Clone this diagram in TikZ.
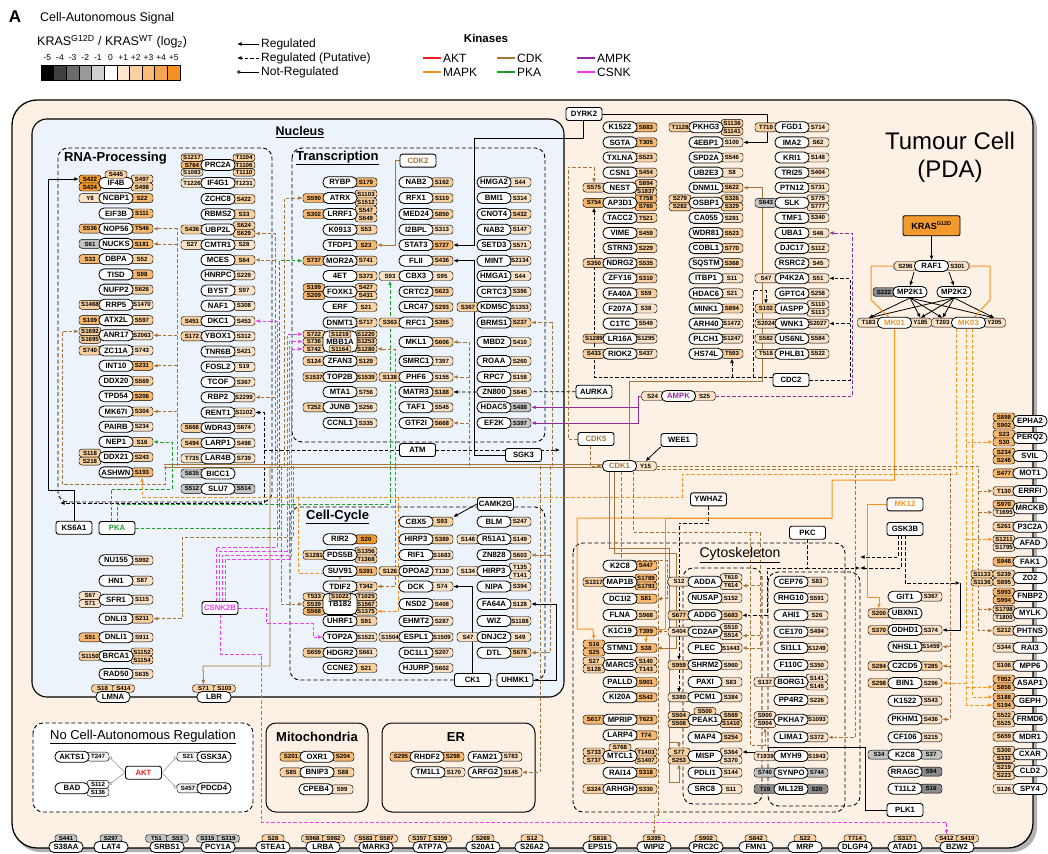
\documentclass[tikz,border=0pt]{standalone}
\usepackage{fontspec}
\setmainfont{Liberation Sans}
\usetikzlibrary{arrows.meta}
\pgfdeclarelayer{bg}
\pgfdeclarelayer{edges}
\pgfsetlayers{bg,edges,main}
\definecolor{panelc}{HTML}{FDF1E6}
\definecolor{nucc}{HTML}{EDF3FB}
\definecolor{cdkc}{HTML}{A8743A}
\definecolor{mapkc}{HTML}{F7941D}
\definecolor{pkac}{HTML}{1FA02A}
\definecolor{ampkc}{HTML}{8E2C9A}
\definecolor{csnkc}{HTML}{F03CF0}
\definecolor{aktc}{HTML}{EE1C25}
\definecolor{sa}{HTML}{FBE2C5}
\definecolor{sb}{HTML}{F9D09F}
\definecolor{sc}{HTML}{F6B86F}
\definecolor{sd}{HTML}{F39A2E}
\definecolor{sg}{HTML}{C4C4C4}
\definecolor{sk}{HTML}{8A8A8A}
\definecolor{sw}{HTML}{F5F5F5}
\definecolor{cb1}{HTML}{000000}
\definecolor{cb2}{HTML}{404040}
\definecolor{cb3}{HTML}{6B6B6B}
\definecolor{cb4}{HTML}{9A9A9A}
\definecolor{cb5}{HTML}{D0D0D0}
\definecolor{cb6}{HTML}{FFFFFF}
\definecolor{cb7}{HTML}{FDE6CC}
\definecolor{cb8}{HTML}{FBD1A2}
\definecolor{cb9}{HTML}{F9BC78}
\definecolor{cb10}{HTML}{F7A64F}
\definecolor{cb11}{HTML}{F59222}
\newcount\sitecnt
\newcommand{\sitecol}[4]{%
  \if\relax\detokenize{#4}\relax\else
    \global\sitecnt=0
    \foreach \sTxt/\sCol in {#4} {\global\advance\sitecnt by 1 }%
    \ifcase\sitecnt \or \def\sH{9}\def\sP{0}\or \def\sH{8}\def\sP{8}\else \def\sH{7.4}\def\sP{7.4}\fi
    \foreach \sTxt/\sCol [count=\si] in {#4} {%
      \pgfmathsetmacro{\sY}{#3+(\si-(\the\sitecnt+1)/2)*\sP}%
      \node[site, fill=s\sCol, minimum height=\sH pt] (#1\si) at (#2,\sY) {\sTxt};
    }%
  \fi}
\newcommand{\tsites}[5]{%
  \global\sitecnt=0
  \foreach \sTxt/\sCol in {#4} {\global\advance\sitecnt by 1 }%
  \foreach \sTxt/\sCol [count=\si] in {#4} {%
    \pgfmathsetmacro{\sX}{#2+(\si-(\the\sitecnt+1)/2)*21}%
    \pgfmathsetmacro{\sY}{#3+(#5)}%
    \node[site, fill=s\sCol, minimum height=7.5pt] (#1\si) at (\sX,\sY) {\sTxt};
  }}
\newcommand{\PR}[7][]{%
  \pgfmathsetmacro{\pL}{#4-26}\pgfmathsetmacro{\pR}{#4+26}%
  \sitecol{#2-L}{\pL}{#5}{#6}%
  \sitecol{#2-R}{\pR}{#5}{#7}%
  \node[prot,#1] (#2) at (#4,#5) {#3};}
\newcommand{\MEM}[5]{\tsites{#1-T}{#3}{#4}{#5}{-8.5}\node[prot] (#1) at (#3,#4) {#2};}
\tikzset{
 prot/.style={draw, line width=0.85pt, fill=white, rounded corners=5pt, minimum width=34pt, minimum height=11pt, inner sep=0pt, font=\fontsize{7.7}{7.7}\selectfont\bfseries},
 site/.style={draw, line width=0.45pt, rounded corners=3pt, minimum width=22pt, inner sep=0pt, font=\fontsize{6.1}{6.1}\selectfont\bfseries},
 kin/.style={draw, line width=0.9pt, fill=white, rounded corners=2.5pt, minimum width=36pt, minimum height=13pt, inner sep=1pt, font=\fontsize{7.7}{7.7}\selectfont\bfseries},
 txt/.style={inner sep=0pt},
 grp/.style={draw, dash pattern=on 4pt off 2.5pt, line width=0.9pt, rounded corners=10pt},
 reg/.style={-{Latex[length=4.5pt,width=3.8pt]}, line width=0.8pt},
 put/.style={reg, dash pattern=on 3.5pt off 2pt},
 cdk/.style={reg, draw=cdkc},
 cdkp/.style={put, draw=cdkc},
 mapk/.style={reg, draw=mapkc, line width=1pt},
 mapkp/.style={put, draw=mapkc, line width=1pt},
 pka/.style={put, draw=pkac},
 csnk/.style={put, draw=csnkc},
 ampk/.style={reg, draw=ampkc, line width=1pt},
 ampkp/.style={put, draw=ampkc},
 notreg/.style={-{Circle[open,length=3.5pt]}, line width=0.6pt, draw=black!40},
}
\begin{document}
\begin{tikzpicture}[x=1pt,y=-1pt]
\useasboundingbox (0,0) rectangle (1048,853);
\begin{pgfonlayer}{bg}
 \fill[white] (0,0) rectangle (1048,853);
 \fill[black!30, rounded corners=25pt] (15,104) rectangle (1037,852);
 \draw[line width=1.3pt, fill=panelc, rounded corners=25pt] (12,100) rectangle (1033,848);
 \draw[line width=1.1pt, fill=nucc, rounded corners=15pt] (32,119) rectangle (564,697);
 \draw[grp] (58,148) rectangle (272,502);
 \draw[grp] (292,148) rectangle (545,442);
 \draw[grp] (290,507) rectangle (545,680);
 \draw[grp] (573,543) rectangle (845,812);
 \draw[grp] (683,568) rectangle (762,804);
 \draw[grp] (768,572) rectangle (860,806);
 \draw[grp, fill=white] (33,723) rectangle (253,812);
 \draw[line width=1pt, rounded corners=10pt] (266,723) rectangle (368,812);
 \draw[line width=1pt, rounded corners=10pt] (382,723) rectangle (535,812);
\end{pgfonlayer}

% ---------- legend ----------
\node[txt, font=\fontsize{17}{17}\selectfont\bfseries] (lblA) at (15,17) {A};
\node[txt, anchor=west, font=\fontsize{12.5}{13}\selectfont] (lg1) at (40,18) {Cell-Autonomous Signal};
\node[txt, anchor=west, font=\fontsize{12.5}{13}\selectfont] (lg2) at (37,42) {KRAS\textsuperscript{G12D} / KRAS\textsuperscript{WT} (log\textsubscript{2})};
\foreach \vv [count=\i] in {-5,-4,-3,-2,-1,0,+1,+2,+3,+4,+5}
  \node[txt, font=\fontsize{8.5}{9}\selectfont] (scl\i) at ({41+12.64*(\i-0.5)},58) {\vv};
\foreach \i in {1,...,11}
  \draw[line width=0.6pt, fill=cb\i] ({41+12.64*(\i-1)},65) rectangle ({41+12.64*\i},80);
\node[txt, anchor=west, font=\fontsize{12}{13}\selectfont] (lgR) at (261,44) {Regulated};
\node[txt, anchor=west, font=\fontsize{12}{13}\selectfont] (lgP) at (261,58) {Regulated (Putative)};
\node[txt, anchor=west, font=\fontsize{12}{13}\selectfont] (lgN) at (261,72) {Not-Regulated};
\coordinate (lgRe) at (237,44);
\coordinate (lgPe) at (237,58);
\coordinate (lgNe) at (237,72);
\draw[reg] ([xshift=-2pt]lgR.west) -- (lgRe);
\draw[put] ([xshift=-2pt]lgP.west) -- (lgPe);
\draw[-{Circle[open,length=3.5pt]}, line width=0.8pt] ([xshift=-2pt]lgN.west) -- (lgNe);
\node[txt, font=\fontsize{11.5}{12}\selectfont\bfseries] (lgK) at (486,38) {Kinases};
\node[txt, anchor=west, font=\fontsize{12}{13}\selectfont] (kAKT) at (443,58) {AKT};
\node[txt, anchor=west, font=\fontsize{12}{13}\selectfont] (kCDK) at (517,58) {CDK};
\node[txt, anchor=west, font=\fontsize{12}{13}\selectfont] (kAMPK) at (597,58) {AMPK};
\node[txt, anchor=west, font=\fontsize{12}{13}\selectfont] (kMAPK) at (443,72) {MAPK};
\node[txt, anchor=west, font=\fontsize{12}{13}\selectfont] (kPKA) at (517,72) {PKA};
\node[txt, anchor=west, font=\fontsize{12}{13}\selectfont] (kCSNK) at (597,72) {CSNK};
\draw[aktc, line width=1.6pt] ([xshift=-2pt]kAKT.west) -- ++(-18,0);
\draw[cdkc, line width=1.6pt] ([xshift=-2pt]kCDK.west) -- ++(-18,0);
\draw[ampkc, line width=1.6pt] ([xshift=-2pt]kAMPK.west) -- ++(-18,0);
\draw[mapkc, line width=1.6pt] ([xshift=-2pt]kMAPK.west) -- ++(-18,0);
\draw[pkac, line width=1.6pt] ([xshift=-2pt]kPKA.west) -- ++(-18,0);
\draw[csnkc, line width=1.6pt] ([xshift=-2pt]kCSNK.west) -- ++(-18,0);

% ---------- titles ----------
\node[txt, font=\fontsize{24}{28}\selectfont, align=center] (ttl) at (950,157) {Tumour Cell\\(PDA)};
\node[txt, font=\fontsize{12.5}{13}\selectfont\bfseries] (tNuc) at (300,132) {\underline{Nucleus}};
\node[txt, anchor=west, font=\fontsize{13}{14}\selectfont\bfseries] (tRNA) at (64,158) {RNA-Processing};
\node[txt, anchor=west, font=\fontsize{13}{14}\selectfont\bfseries] (tTr) at (296,158) {\underline{Transcription}};
\node[txt, anchor=west, font=\fontsize{13}{14}\selectfont\bfseries] (tCC) at (306,517) {\underline{Cell-Cycle}};
\node[txt, font=\fontsize{14}{15}\selectfont] (tCy) at (740,555) {\underline{Cytoskeleton}};
\node[txt, font=\fontsize{13}{14}\selectfont\bfseries] (tMi) at (317,737) {Mitochondria};
\node[txt, font=\fontsize{13}{14}\selectfont\bfseries] (tER) at (456,737) {ER};
\node[txt, font=\fontsize{13}{14}\selectfont] (tNo) at (143,737) {\underline{No Cell-Autonomous Regulation}};

% ---------- kinase boxes ----------
\node[kin] (DYRK2) at (584,114) {DYRK2};
\node[kin] (AURKA) at (594,391.7) {AURKA};
\node[kin,text=cdkc] (CDK5) at (596,439) {CDK5};
\node[kin] (WEE1) at (679,440) {WEE1};
\node[kin] (YWHAZ) at (708.5,499.3) {YWHAZ};
\node[kin] (PKC) at (807.5,532.7) {PKC};
\node[kin] (CDC2) at (791,380) {CDC2};
\node[kin] (ATM) at (417.5,450) {ATM};
\node[kin] (SGK3) at (523.5,455) {SGK3};
\node[kin] (KS6A1) at (74,527.7) {KS6A1};
\node[kin,text=pkac] (PKA) at (117,528) {PKA};
\node[kin,text=csnkc] (CSNK2B) at (220,608) {CSNK2B};
\node[kin] (CAMK2G) at (495.5,504) {CAMK2G};
\node[kin] (CK1) at (472.5,680) {CK1};
\node[kin] (UHMK1) at (515,680) {UHMK1};
\node[kin,text=mapkc] (MK12) at (905,504.3) {MK12};
\node[kin] (GSK3B) at (905,529) {GSK3B};
\node[kin] (PLK1) at (905,810) {PLK1};
\node[kin,text=cdkc] (CDK2) at (418,160.7) {CDK2};
\node[kin,text=aktc] (AKT) at (143.5,772.7) {AKT};
\node[draw, line width=0.9pt, fill=sd, rounded corners=2pt, minimum width=57pt, minimum height=20pt, inner sep=1pt, font=\fontsize{9}{9}\selectfont\bfseries] (KRAS) at (931.5,225.7) {KRAS\textsuperscript{\fontsize{5.5}{5.5}\selectfont G12D}};

% ---------- KRAS pathway ----------
\PR{RAF1}{RAF1}{931.5}{266}{S296/a}{S301/a}
\PR{MP2K1}{MP2K1}{910}{292}{S222/k}{}
\PR{MP2K2}{MP2K2}{954}{292}{}{}
\PR{MK01}{\textcolor{mapkc}{MK01}}{894.5}{322.7}{T183/a}{Y185/a}
\PR{MK03}{\textcolor{mapkc}{MK03}}{968.5}{322.7}{T203/a}{Y205/a}
\PR{CDK1}{\textcolor{cdkc}{CDK1}}{619.5}{466}{}{Y15/a}
\PR{AMPK}{\textcolor{ampkc}{AMPK}}{678.5}{396}{S24/a}{S25/a}

% ---------- RNA processing ----------
\PR{IF4B}{IF4B}{116}{183}{S422/d,S424/d}{S497/b,S498/b}
\tsites{IF4B-T}{116}{183}{S445/b}{-8.5}
\PR{NCBP1}{NCBP1}{116}{198.2}{Y8/a}{S22/c}
\PR{EIF3B}{EIF3B}{116}{213.5}{}{S111/c}
\PR{NOP56}{NOP56}{116}{228.7}{S536/c}{T546/c}
\PR{NUCKS}{NUCKS}{116}{243.9}{S61/g}{S181/c}
\PR{DBPA}{DBPA}{116}{259.2}{S33/c}{S52/b}
\PR{TISD}{TISD}{116}{274.4}{}{S98/c}
\PR{NUFP2}{NUFP2}{116}{289.6}{}{S626/b}
\PR{RRP5}{RRP5}{116}{304.8}{S1468/b}{S1470/a}
\PR{ATX2L}{ATX2L}{116}{320.1}{S109/c}{S597/b}
\PR{ANR17}{ANR17}{116}{335.3}{S1692/b,S1695/b}{S2063/a}
\PR{ZC11A}{ZC11A}{116}{350.5}{S740/b}{S743/a}
\PR{INT10}{INT10}{116}{365.8}{}{S231/c}
\PR{DDX20}{DDX20}{116}{381}{}{S569/b}
\PR{TPD54}{TPD54}{116}{396.2}{}{S206/c}
\PR{MK67I}{MK67I}{116}{411.5}{}{S304/b}
\PR{PAIRB}{PAIRB}{116}{426.7}{}{S234/a}
\PR{NEP1}{NEP1}{116}{441.9}{}{S16/b}
\PR{DDX21}{DDX21}{116}{457.1}{S118/b,S218/b}{S243/b}
\PR{ASHWN}{ASHWN}{116}{472.4}{}{S193/c}
\PR{PRC2A}{PRC2A}{218}{165}{S1217/b,S764/c,S1083/a}{T1104/b,T1106/b,T1110/b}
\PR{IF4G1}{IF4G1}{218}{183}{T1226/a}{T1231/a}
\PR{ZCHC8}{ZCHC8}{218}{199}{}{S422/b}
\PR{RBMS2}{RBMS2}{218}{214.3}{}{S33/b}
\PR{UBP2L}{UBP2L}{218}{229.5}{S436/b}{S624/b,S629/b}
\PR{CMTR1}{CMTR1}{218}{244.8}{S27/a}{S28/a}
\PR{MCES}{MCES}{218}{260}{}{S64/b}
\PR{HNRPC}{HNRPC}{218}{275.3}{}{S229/a}
\PR{BYST}{BYST}{218}{290.5}{}{S97/a}
\PR{NAF1}{NAF1}{218}{305.8}{}{S308/a}
\PR{DKC1}{DKC1}{218}{321}{S451/b}{S453/a}
\PR{YBOX1}{YBOX1}{218}{336.3}{S172/b}{S312/a}
\PR{TNR6B}{TNR6B}{218}{351.5}{}{S421/a}
\PR{FOSL2}{FOSL2}{218}{366.8}{}{S19/a}
\PR{TCOF}{TCOF}{218}{382}{}{S367/a}
\PR{RBP2}{RBP2}{218}{397.3}{}{S2299/a}
\PR{RENT1}{RENT1}{218}{412.5}{}{S1102/a}
\PR{WDR43}{WDR43}{218}{427.8}{S666/b}{S674/a}
\PR{LARP1}{LARP1}{218}{443}{S494/b}{S498/a}
\PR{LAR4B}{LAR4B}{218}{458.3}{T735/a}{S739/a}
\PR{BICC1}{BICC1}{218}{473.5}{S635/g}{}
\PR{SLU7}{SLU7}{218}{488.8}{S512/g}{S514/g}

% ---------- Transcription ----------
\PR{RYBP}{RYBP}{340}{182.3}{}{S179/c}
\PR{ATRX}{ATRX}{340}{198}{S590/c}{S1103/b,S1512/b}
\PR{LRRF1}{LRRF1}{340}{214}{S302/c}{S547/b,S649/b}
\PR{K0913}{K0913}{340}{229.7}{}{S53/b}
\PR{TFDP1}{TFDP1}{340}{245}{}{S23/c}
\PR{MOR2A}{MOR2A}{340}{260.7}{S737/c}{S741/b}
\PR{ET4}{4ET}{340}{276}{}{S373/b}
\PR{FOXK1}{FOXK1}{340}{291.7}{S199/c,S209/c}{S427/b,S431/b}
\PR{ERF}{ERF}{340}{307}{}{S21/b}
\PR{DNMT1}{DNMT1}{340}{322.5}{}{S717/b}
\PR[minimum height=21pt]{MBB1A}{MBB1A}{340}{341.5}{S722/b,S736/b,S742/b}{S1220/b,S1253/b,S1280/b}
\tsites{MBB1A-T}{340}{341.5}{S1219/b}{-7.4}
\tsites{MBB1A-B}{340}{341.5}{S1164/b}{7.4}
\PR{ZFAN3}{ZFAN3}{340}{361}{S124/b}{S129/b}
\PR{TOP2B}{TOP2B}{340}{377}{S1537/b}{S1539/b}
\PR{MTA1}{MTA1}{340}{392}{}{S756/a}
\PR{JUNB}{JUNB}{340}{407.3}{T252/b}{S256/a}
\PR{CCNL1}{CCNL1}{340}{423}{}{S335/a}
\PR{NAB2}{NAB2}{416}{182.3}{}{S162/b}
\PR{RFX1}{RFX1}{416}{198}{}{S110/b}
\PR{MED24}{MED24}{416}{214}{}{S850/b}
\PR{I2BPL}{I2BPL}{416}{229.7}{}{S313/a}
\PR{STAT3}{STAT3}{416}{245}{}{S727/c}
\PR{FLII}{FLII}{416}{260.7}{}{S436/b}
\PR{CBX3}{CBX3}{416}{276}{S93/a}{S95/a}
\PR{CRTC2}{CRTC2}{416}{291.7}{}{S623/b}
\PR{LRC47}{LRC47}{416}{307}{}{S293/b}
\PR{RFC1}{RFC1}{416}{322.5}{S363/b}{S365/b}
\PR{MKL1}{MKL1}{416}{342}{}{S606/b}
\PR{SMRC1}{SMRC1}{416}{361}{}{T397/a}
\PR{PHF6}{PHF6}{416}{377}{S138/b}{S155/a}
\PR{MATR3}{MATR3}{416}{392}{}{S188/b}
\PR{TAF1}{TAF1}{416}{407.3}{}{S545/a}
\PR{GTF2I}{GTF2I}{416}{423}{}{S668/b}
\PR{HMGA2}{HMGA2}{494}{182.3}{}{S44/a}
\PR{BMI1}{BMI1}{494}{198}{}{S314/a}
\PR{CNOT4}{CNOT4}{494}{214}{}{S432/b}
\PR{NAB2b}{NAB2}{494}{229.7}{}{S147/a}
\PR{SETD3}{SETD3}{494}{245}{}{S571/a}
\PR{MINT}{MINT}{494}{260.7}{}{S2134/a}
\PR{HMGA1}{HMGA1}{494}{276}{}{S44/a}
\PR{CRTC3}{CRTC3}{494}{291.7}{}{S396/a}
\PR{KDM5C}{KDM5C}{494}{307}{S367/b}{S1353/a}
\PR{BRMS1}{BRMS1}{494}{322.5}{}{S237/b}
\PR{MBD2}{MBD2}{494}{342}{}{S410/a}
\PR{ROAA}{ROAA}{494}{361}{}{S260/a}
\PR{RPC7}{RPC7}{494}{377}{}{S158/a}
\PR{ZN800}{ZN800}{494}{392}{}{S645/a}
\PR{HDAC5}{HDAC5}{494}{407.3}{}{S488/g}
\PR{EF2K}{EF2K}{494}{423}{}{S397/g}

% ---------- lower nucleus ----------
\PR{NU155}{NU155}{116}{560.3}{}{S992/a}
\PR{HN1}{HN1}{116}{580.7}{}{S87/a}
\PR{SFR1}{SFR1}{116}{599.7}{S67/a,S71/a}{S115/a}
\PR{DNLI3}{DNLI3}{116}{618.7}{}{S211/b}
\PR{DNLI1}{DNLI1}{116}{637.3}{S51/c}{S911/a}
\PR{BRCA1}{BRCA1}{116}{656}{S1150/b}{S1152/b,S1154/b}
\PR{RAD50}{RAD50}{116}{674}{}{S635/a}
\MEM{LMNA}{LMNA}{113}{697}{S18/b,S414/b}
\MEM{LBR}{LBR}{214}{697}{S71/b,S103/b}

% ---------- Cell cycle ----------
\PR{RIR2}{RIR2}{340}{539.3}{}{S20/d}
\PR{PDS5B}{PDS5B}{340}{555}{S1281/b}{S1356/b,T1368/b}
\PR{SUV91}{SUV91}{340}{571}{}{S391/c}
\PR{TDIF2}{TDIF2}{340}{586.5}{}{T342/b}
\PR[minimum height=21pt]{TB182}{TB182}{340}{604}{T533/b,S539/b,S568/c}{T1025/b,S1567/b,S1375/b}
\tsites{TB182-T}{340}{604}{S1022/b}{-7.4}
\PR{UHRF1}{UHRF1}{340}{621}{}{S91/b}
\PR{TOP2A}{TOP2A}{340}{637}{}{S1521/a}
\PR{HDGR2}{HDGR2}{340}{652.7}{S659/b}{S661/a}
\PR{CCNE2}{CCNE2}{340}{668}{}{S21/b}
\PR{CBX5}{CBX5}{416}{521.7}{}{S93/b}
\PR{HIRP3}{HIRP3}{416}{539.3}{}{S389/b}
\PR{RIF1}{RIF1}{416}{555}{}{S1683/a}
\PR{DPOA2}{DPOA2}{416}{571}{S126/b}{T130/a}
\PR{DCK}{DCK}{416}{586.5}{}{S74/a}
\PR{NSD2}{NSD2}{416}{604}{}{S408/a}
\PR{EHMT2}{EHMT2}{416}{621}{}{S287/a}
\PR{ESPL1}{ESPL1}{416}{637}{S1504/a}{S1509/a}
\PR{DC1L1}{DC1L1}{416}{652.7}{}{S207/a}
\PR{HJURP}{HJURP}{416}{668}{}{S602/a}
\PR{BLM}{BLM}{494}{521.7}{}{S247/a}
\PR{R51A1}{R51A1}{494}{539.3}{S148/a}{S149/a}
\PR{ZN828}{ZN828}{494}{555}{}{S603/a}
\PR{HIRP3b}{HIRP3}{494}{571}{S134/a}{T135/a,T141/a}
\PR{NIPA}{NIPA}{494}{586.5}{}{S394/a}
\PR{FA64A}{FA64A}{494}{604}{}{S128/a}
\PR{WIZ}{WIZ}{494}{621}{}{S1188/a}
\PR{DNJC2}{DNJC2}{494}{637}{S47/a}{S49/a}
\PR{DTL}{DTL}{494}{652.7}{}{S678/b}

% ---------- top middle ----------
\PR{K1522}{K1522}{620}{127.3}{}{S883/c}
\PR{SGTA}{SGTA}{620}{142.4}{}{T305/c}
\PR{TXLNA}{TXLNA}{620}{157.5}{}{S523/b}
\PR{CSN1}{CSN1}{620}{172.6}{}{S454/b}
\PR{NEST}{NEST}{620}{187.7}{S575/b}{S894/b,S1837/b}
\PR{AP3D1}{AP3D1}{620}{202.8}{S754/c}{T758/c,S760/c}
\PR{TACC2}{TACC2}{620}{217.9}{}{T521/b}
\PR{VIME}{VIME}{620}{233}{}{S459/b}
\PR{STRN3}{STRN3}{620}{248.1}{}{S229/b}
\PR{NDRG2}{NDRG2}{620}{263.2}{S350/b}{S535/b}
\PR{ZFY16}{ZFY16}{620}{278.3}{}{S310/b}
\PR{FA40A}{FA40A}{620}{293.4}{}{S59/b}
\PR{F207A}{F207A}{620}{308.5}{}{S38/a}
\PR{C1TC}{C1TC}{620}{323.6}{}{S549/a}
\PR{LR16A}{LR16A}{620}{338.7}{S1289/b}{S1295/a}
\PR{RIOK2}{RIOK2}{620}{353.8}{S433/b}{S437/a}
\PR{PKHG3}{PKHG3}{706}{127.3}{T1128/b}{S1136/b,S1141/b}
\PR{EBP4}{4EBP1}{706}{142.4}{}{S100/a}
\PR{SPD2A}{SPD2A}{706}{157.5}{}{S546/a}
\PR{UB2E3}{UB2E3}{706}{172.6}{}{S8/a}
\PR{DNM1L}{DNM1L}{706}{187.7}{}{S622/b}
\PR{OSBP1}{OSBP1}{706}{202.8}{S279/b,S282/b}{S326/b,S329/b}
\PR{CA055}{CA055}{706}{217.9}{}{S281/a}
\PR{WDR81}{WDR81}{706}{233}{}{S523/b}
\PR{COBL1}{COBL1}{706}{248.1}{}{S770/b}
\PR{SQSTM}{SQSTM}{706}{263.2}{}{S368/b}
\PR{ITBP1}{ITBP1}{706}{278.3}{}{S11/a}
\PR{HDAC6}{HDAC6}{706}{293.4}{}{S21/a}
\PR{MINK1}{MINK1}{706}{308.5}{}{S894/b}
\PR{ARH40}{ARH40}{706}{323.6}{}{S1472/a}
\PR{PLCH1}{PLCH1}{706}{338.7}{}{S1247/a}
\PR{HS74L}{HS74L}{706}{353.8}{}{T593/b}
\PR{FGD1}{FGD1}{792}{127.3}{T710/b}{S714/a}
\PR{IMA2}{IMA2}{792}{142.4}{}{S62/a}
\PR{KRI1}{KRI1}{792}{157.5}{}{S148/a}
\PR{TRI25}{TRI25}{792}{172.6}{}{S404/a}
\PR{PTN12}{PTN12}{792}{187.7}{}{S731/a}
\PR{SLK}{SLK}{792}{202.8}{S643/g}{S775/a,S777/a}
\PR{TMF1}{TMF1}{792}{217.9}{}{S340/a}
\PR{UBA1}{UBA1}{792}{233}{}{S46/a}
\PR{DJC17}{DJC17}{792}{248.1}{}{S112/a}
\PR{RSRC2}{RSRC2}{792}{263.2}{}{S45/a}
\PR{P4K2A}{P4K2A}{792}{278.3}{S47/a}{S51/a}
\PR{GPTC4}{GPTC4}{792}{293.4}{}{S258/a}
\PR{IASPP}{IASPP}{792}{308.5}{S102/b}{S110/a,S113/a}
\PR{WNK1}{WNK1}{792}{323.6}{S2024/a}{S2027/a}
\PR{US6NL}{US6NL}{792}{338.7}{S582/a}{S584/a}
\PR{PHLB1}{PHLB1}{792}{353.8}{T518/a}{S522/a}

% ---------- Cytoskeleton ----------
\PR{K2C8}{K2C8}{620}{565.7}{}{S447/c}
\PR{MAP1B}{MAP1B}{620}{582}{S1317/b}{S1789/c,S1793/c}
\PR{DC1I2}{DC1I2}{620}{598.7}{}{S81/c}
\PR{FLNA}{FLNA}{620}{615}{}{S968/b}
\PR{K1C19}{K1C19}{620}{631.3}{}{T399/c}
\PR{STMN1}{STMN1}{620}{648}{S16/c,S25/c}{S38/c}
\PR{MARCS}{MARCS}{620}{665}{S27/b,S128/b}{S140/b,T143/b}
\PR{PALLD}{PALLD}{620}{682}{}{S901/c}
\PR{KI20A}{KI20A}{620}{697.3}{}{S542/c}
\PR{MPRIP}{MPRIP}{620}{719.7}{S617/c}{T623/c}
\PR{LARP4}{LARP4}{620}{735.3}{}{T74/c}
\PR{MTCL1}{MTCL1}{620}{756}{S733/b,S737/b}{T1403/b,S1407/b}
\tsites{MTCL1-T}{620}{756}{S768/b}{-8.5}
\PR{RAI14}{RAI14}{620}{772.7}{}{S318/c}
\PR{ARHGH}{ARHGH}{620}{789}{S324/b}{S330/b}
\PR{ADDA}{ADDA}{705}{581.7}{S12/a}{T610/a,T614/a}
\PR{NUSAP}{NUSAP}{705}{598}{}{S152/a}
\PR{ADDG}{ADDG}{705}{615.3}{S677/b}{S683/b}
\PR{CD2AP}{CD2AP}{705}{631.7}{S404/a}{S510/a,S514/a}
\PR{PLEC}{PLEC}{705}{648}{}{S1443/a}
\PR{SHRM2}{SHRM2}{705}{665}{S959/b}{S960/a}
\PR{PAXI}{PAXI}{705}{682}{}{S83/a}
\PR{PCM1}{PCM1}{705}{697.3}{S380/a}{S384/a}
\PR{PEAK1}{PEAK1}{705}{719.7}{S504/b,S508/b}{S569/b,S1410/b}
\tsites{PEAK1-T}{705}{719.7}{S500/b}{-8.5}
\PR{MAP4}{MAP4}{705}{737.3}{}{S254/b}
\PR{MISP}{MISP}{705}{756}{S77/b,S253/b}{S364/a,S370/a}
\PR{PDLI1}{PDLI1}{705}{772.7}{}{S144/a}
\PR{SRC8}{SRC8}{705}{789}{}{S11/a}
\PR{CEP76}{CEP76}{791}{581.7}{}{S83/a}
\PR{RHG10}{RHG10}{791}{598}{}{S591/a}
\PR{AHI1}{AHI1}{791}{615.3}{}{S26/a}
\PR{CE170}{CE170}{791}{631.7}{}{S494/a}
\PR{SI1L1}{SI1L1}{791}{648}{}{S1249/a}
\PR{F110C}{F110C}{791}{665}{}{S350/a}
\PR{BORG1}{BORG1}{791}{682}{S137/a}{S141/a,S145/a}
\PR{PP4R2}{PP4R2}{791}{700}{}{S226/a}
\PR{PKHA7}{PKHA7}{791}{719.7}{S900/a,S904/a}{S1093/a}
\PR{LIMA1}{LIMA1}{791}{737.3}{}{S372/a}
\PR{MYH9}{MYH9}{791}{756}{T1939/a}{S1943/a}
\PR{SYNPO}{SYNPO}{791}{772.7}{S740/g}{S744/g}
\PR{ML12B}{ML12B}{791}{789}{T19/k}{S20/k}

% ---------- right column ----------
\PR{GIT1}{GIT1}{905}{596.7}{}{S367/a}
\PR{UBXN1}{UBXN1}{905}{613.3}{S200/b}{}
\PR{ODHD1}{ODHD1}{905}{630}{S370/b}{S374/a}
\PR{NHSL1}{NHSL1}{905}{646.7}{}{S1459/a}
\PR{C2CD5}{C2CD5}{905}{666}{S284/b}{T285/b}
\PR{BIN1}{BIN1}{905}{683}{S298/b}{S296/a}
\PR{K1522b}{K1522}{905}{700.7}{}{S543/a}
\PR{PKHM1}{PKHM1}{905}{719.3}{}{S436/a}
\PR{CF106}{CF106}{905}{737.3}{}{S215/a}
\PR{K2C8b}{K2C8}{905}{754.7}{S34/g}{S37/g}
\PR{RRAGC}{RRAGC}{905}{771.7}{}{S94/k}
\PR{T11L2}{T11L2}{905}{788.7}{}{S16/k}

% ---------- membrane (right) ----------
\PR{EPHA2}{EPHA2}{1030}{421}{S898/c,S902/c}{}
\PR{PERQ2}{PERQ2}{1030}{438}{S23/c,S30/c}{}
\PR{SVIL}{SVIL}{1030}{456}{S234/c,S248/c}{}
\PR{MOT1}{MOT1}{1030}{473.3}{S477/c}{}
\PR{ERRFI}{ERRFI}{1030}{491}{T130/b}{}
\PR{MRCKB}{MRCKB}{1030}{508.3}{S970/c,T1695/a}{}
\PR{P3C2A}{P3C2A}{1030}{526.7}{S261/b}{}
\PR{AFAD}{AFAD}{1030}{543.3}{S1211/b,S1795/a}{}
\PR{FAK1}{FAK1}{1030}{561.7}{S948/c}{}
\sitecol{ZO2-LL}{982}{578}{S1133/b,S1136/b}
\PR{ZO2}{ZO2}{1030}{578}{S239/b,S895/b}{}
\PR{FNBP2}{FNBP2}{1030}{596}{S993/c,S994/c}{}
\PR{MYLK}{MYLK}{1030}{613.3}{S1798/b,T1800/a}{}
\PR{PHTNS}{PHTNS}{1030}{630.7}{S212/b}{}
\PR{RAI3}{RAI3}{1030}{647.7}{S344/a}{}
\PR{MPP6}{MPP6}{1030}{665.7}{S106/b}{}
\PR{ASAP1}{ASAP1}{1030}{683}{T852/c,S858/c}{}
\PR{GEPH}{GEPH}{1030}{701}{S188/c,S194/c}{}
\PR{FRMD6}{FRMD6}{1030}{719}{S522/b,S525/b}{}
\PR{MDR1}{MDR1}{1030}{736.7}{S659/b}{}
\PR{CXAR}{CXAR}{1030}{754.3}{S300/b,S332/b}{}
\PR{CLD2}{CLD2}{1030}{771.3}{S219/b,S223/b}{}
\PR{SPY4}{SPY4}{1030}{789}{S126/a}{}

% ---------- membrane (bottom) ----------
\MEM{S38AA}{S38AA}{66}{847}{S441/g}
\MEM{LAT4}{LAT4}{111}{847}{S297/g}
\MEM{SRBS1}{SRBS1}{167}{847}{T51/g,S53/g}
\MEM{PCY1A}{PCY1A}{218}{847}{S315/g,S319/g}
\MEM{STEA1}{STEA1}{273}{847}{S28/b}
\MEM{LRBA}{LRBA}{323}{847}{S968/b,S982/b}
\MEM{MARK3}{MARK3}{376}{847}{S583/b,S587/b}
\MEM{ATP7A}{ATP7A}{430}{847}{S357/b,S359/b}
\MEM{S20A1}{S20A1}{483}{847}{S269/b}
\MEM{S26A2}{S26A2}{532}{847}{S12/b}
\MEM{EPS15}{EPS15}{600}{847}{S816/b}
\MEM{WIPI2}{WIPI2}{654}{847}{S395/b}
\MEM{PRC2C}{PRC2C}{706}{847}{S902/b}
\MEM{FMN1}{FMN1}{756}{847}{S842/b}
\MEM{MRP}{MRP}{805}{847}{S22/b}
\MEM{DLGP4}{DLGP4}{855}{847}{T714/b}
\MEM{ATAD1}{ATAD1}{905}{847}{S317/b}
\MEM{BZW2}{BZW2}{957}{847}{S412/b,S419/b}

% ---------- no cell-autonomous / organelles ----------
\PR{AKTS1}{AKTS1}{72}{756.7}{}{T247/w}
\PR{BAD}{BAD}{72}{788.3}{}{S112/w,S136/w}
\PR{GSK3A}{GSK3A}{214}{756.7}{S21/w}{}
\PR{PDCD4}{PDCD4}{214}{788.3}{S457/w}{}
\PR{OXR1}{OXR1}{317}{756.7}{S201/c}{S204/c}
\PR{BNIP3}{BNIP3}{317}{772.3}{S85/b}{S88/b}
\PR{CPEB4}{CPEB4}{316}{789.3}{}{S99/a}
\PR{RHDF2}{RHDF2}{427}{756.7}{S295/c}{S298/c}
\PR{TM1L1}{TM1L1}{428}{772.3}{}{S170/a}
\PR{FAM21}{FAM21}{485}{756.7}{}{S783/a}
\PR{ARFG2}{ARFG2}{485}{772.3}{}{S145/a}

\coordinate (atmE) at (560,450);
\coordinate (rnaB) at (60,503);

% ================= connectors =================
\begin{pgfonlayer}{edges}
% black
\draw[reg] (KS6A1.north) |- (48,490) |- (IF4B-L1.west);
\draw[reg] ([xshift=-1pt]DYRK2.south) |- (474,138) |- (STAT3-R1.east);
\draw[reg] (DYRK2.east) -| (767,142.4) -- (EBP4-R1.east);
\draw[reg] (SGK3.west) -| (474,260.7) -- (FLII-R1.east);
\draw[put] (AURKA.west) -- (MATR3-R1.east);
\draw[reg] (CK1.north) |- (DCK-R1.east);
\draw[reg] (UHMK1.east) -| (556,604) -- (FA64A-R1.east);
\draw[reg] (CAMK2G.west) -- (CBX5-R1.north east);
\draw[reg] (WEE1.south west) -- (CDK1-R1.north);
\draw[put] (ATM.west) -- (264,450) |- (RENT1-R1.east);
\draw[put] (264,450) |- (rnaB);
\draw[put] (ATM.east) -- (atmE);
\draw[reg] (KRAS.south) -- (RAF1.north);
\draw[reg] (RAF1.south west) -- (MP2K1.north);
\draw[reg] (RAF1.south east) -- (MP2K2.north);
\foreach \ka in {MP2K1,MP2K2} \foreach \kb in {MK01-L1,MK01-R1,MK03-L1,MK03-R1} \draw[reg] (\ka.south) -- (\kb.north);
\draw[put] (GSK3B.south) |- (960,583);
\draw[reg] (960,583) |- (ODHD1-R1.east);
\draw[put] ([xshift=-7pt]GSK3B.south) |- (860,557);
\draw[put] ([xshift=-4pt]GSK3B.south) |- (860,568);
\draw[reg] (PLK1.west) -| (865,747) -| (768,752) -- (MISP-R1.east);
\draw[put] (CDC2.east) -| (850,278.3) -- (P4K2A-R1.east);
\draw[put] (850,323.6) -- (WNK1-R1.east);
\draw[put] ([yshift=3pt]CDC2.west) -- (594,377) -- (AP3D1-L1.south);
\draw[put] (732,377) -- (HS74L-R1.south);
\draw[put] (753,377) |- (766,290) -- (IASPP-L1.north);
\draw[put] (YWHAZ.south) |- (679,523) -- (SHRM2-L1.north);
\draw[put] (SHRM2-L1.south) -- (PCM1-L1.north);
\draw[put] (PKC.south) |- (767,568) |- (ADDG-R1.east);
\draw[put] (PKC.south) |- (860,568);
% purple
\draw[ampk] (AMPK-L1.west) -| (638,407.3) -- (HDAC5-R1.east);
\draw[ampk] (638,407.3) |- (EF2K-R1.east);
\draw[ampkp] (AMPK-R1.east) -| (852,233) -- (UBA1-R1.east);
% green
\draw[pka] ([xshift=-6pt]PKA.north) |- (172,489) |- (NEP1-R1.east);
\draw[pka] (PKA.north) |- (390,504) -- (CBX3-L1.south);
\draw[pka] (PKA.east) -| (279,260.7) -- (MOR2A-L1.west);
% magenta
\draw[csnk] ([xshift=-4pt]CSNK2B.north) |- (277,547) |- (DKC1-R1.east);
\draw[csnk] ([xshift=-1pt]CSNK2B.north) |- (287,551) |- (MBB1A-L1.west);
\draw[csnk] ([xshift=2pt]CSNK2B.north) |- (289,555) |- (MBB1A-L2.west);
\draw[csnk] ([xshift=5pt]CSNK2B.north) |- (291,559) |- (MBB1A-L3.west);
\draw[csnk] (CSNK2B.east) -| (266,623) -| (313,637) -- (TOP2A.west);
\draw[csnk] (CSNK2B.south) |- (261,654) -- (261,822) -| (BZW2-T1.north);
% orange
\draw[mapk,-{Bar[width=6pt]}] ([xshift=-6pt]MK01.north) -- (871,300) -- (871,266) -- (RAF1-L1.west);
\draw[mapk,-{Bar[width=6pt]}] ([xshift=6pt]MK03.north) -- (990,300) -- (990,266) -- (RAF1-R1.east);
\draw[mapk] (MK01.south) |- (832,480) |- (577,518) |- (593,629) -- (STMN1-L1.north);
\draw[mapk] (832,518) -| (665,629) -| (STMN1-R1.north);
\draw[mapk] (MK12.west) -| (867,597) -| (UBXN1-L1.north);
\draw[mapkp] ([xshift=-2pt]MK03.south) -- (966.5,705) -- (GEPH-L2.west);
\draw[mapkp] (966.5,442) -- (PERQ2-L2.west);
\draw[mapkp] (966.5,539.3) -- (AFAD-L1.west);
\draw[mapkp] (966.5,687) -- (ASAP1-L2.west);
\draw[mapkp] (966.5,683) -- (BIN1-R1.east);
\draw[mapkp] ([xshift=4pt]MK03.south) |- (GEPH-L1.west);
\draw[mapkp] ([xshift=-12pt]MK03.south) |- (682,474) |- (142,497) -- (ASHWN-R1.south);
\draw[mapkp] (298,497) |- (340,573) -- (TDIF2.north);
\draw[mapkp] (398,497) |- (TB182-R3.east);
% brown (CDK)
\draw[cdk] (CDK2.west) -| (395,245) -- (TFDP1-R1.east);
\draw[cdkc, line width=1pt] ([yshift=1.5pt]CDK1.west) -- (164,464.5);
\draw[cdkc, line width=1pt] ([yshift=-1.5pt]CDK1.west) -- (164,467.5);
\draw[cdkp] (177,466) |- (NOP56-R1.east);
\draw[cdkp] (177,243.9) -- (NUCKS-R1.east);
\draw[cdkp] (177,335.3) -- (ANR17-R1.east);
\draw[cdkp] (177,365.8) -- (INT10-R1.east);
\draw[cdkp] (177,411.5) -- (MK67I-R1.east);
\draw[cdkp] (165,466) |- (62,484) |- (ANR17-L1.west);
\draw[cdkp] (275,466) |- (UBP2L-R2.east);
\draw[cdkp] (275,260) -- (MCES-R1.east);
\draw[cdkp] (275,397.3) -- (RBP2-R1.east);
\draw[cdkp] (284,466) |- (ATRX-L1.west);
\draw[cdkp] (281,466) |- (TB182-L2.west);
\draw[cdkp] (395,466) |- (MBB1A-R3.east);
\draw[cdkp] (395,466) |- (TDIF2-R1.east);
\draw[cdkp] (469,466) |- (MKL1-R1.east);
\draw[cdkp] (469,377) -- (PHF6-R1.east);
\draw[cdkp] (469,423) -- (GTF2I-R1.east);
\draw[cdkp] (552,466) |- (BRMS1-R1.east);
\draw[cdkp] (550,466) |- (DTL-R1.east);
\draw[cdkp] (550,555) -- (ZN828-R1.east);
\draw[cdkp] (293,466) |- (182,537) |- (DNLI3-R1.east);
\draw[cdk] (270,466) |- (203,666) -- (LBR-T1.north);
\draw[cdkp] (540,466) |- (ARFG2-R1.east);
\draw[cdkp] (CDK5.west) -| (568,167) -| (NEST-L1.north);
\draw[cdkp] ([xshift=-6pt]CDK5.south) |- (CDK1.west);
\draw[cdk] ([xshift=10pt]CDK1.north) |- (762,381) |- (DNM1L-R1.east);
\draw[cdkp] (CDK1-R1.east) -| (978,630.7) -- (PHTNS-L1.west);
\draw[cdkp] (978,491) -- (ERRFI-L1.west);
\draw[cdkp] (978,512.3) -- (MRCKB-L2.west);
\draw[cdkp] (978,609.3) -- (MYLK-L1.west);
\draw[cdkp] ([yshift=-3pt]CDK1-R1.east) -| (950,719.3) -- (PKHM1-R1.east);
\draw[cdkp] (950,646.7) -- (NHSL1-R1.east);
\draw[cdkp] (950,666) -- (C2CD5-R1.east);
\draw[cdkp] (855,469) |- (LIMA1-R1.east);
\draw[cdkp] ([xshift=14pt]CDK1.south) |- (760,532) |- (PLEC-R1.east);
\draw[cdkp] (760,585.7) -- (ADDA-R2.east);
\draw[cdkp] (760,635.7) -- (CD2AP-R2.east);
\draw[cdkp] (750,532) |- (765,745) -- (PKHA7-L2.south);
\draw[cdk] ([xshift=-10pt]CDK1.south) |- (669,548) -- (669,782) -| (MISP-L2.south);
\draw[cdk] (669,742) -| (MISP-L1.north);
\draw[cdk] ([xshift=-5pt]CDK1.south) |- (676,553) |- (STMN1-R1.east);
\draw[cdkp] ([xshift=2pt]CDK1.south) |- (667,560) |- (DC1I2-R1.east);
\draw[cdkp] (667,631.3) -- (K1C19-R1.east);
\draw[cdkp] (658,560) |- (654,815) -- (WIPI2-T1.north);
% no cell-autonomous regulation
\draw[notreg] (AKT.west) -- (AKTS1-R1.east);
\draw[notreg] (AKT.west) -- (BAD-R1.east);
\draw[notreg] (AKT.east) -- (GSK3A-L1.west);
\draw[notreg] (AKT.east) -- (PDCD4-L1.west);
\end{pgfonlayer}
\end{tikzpicture}
\end{document}
